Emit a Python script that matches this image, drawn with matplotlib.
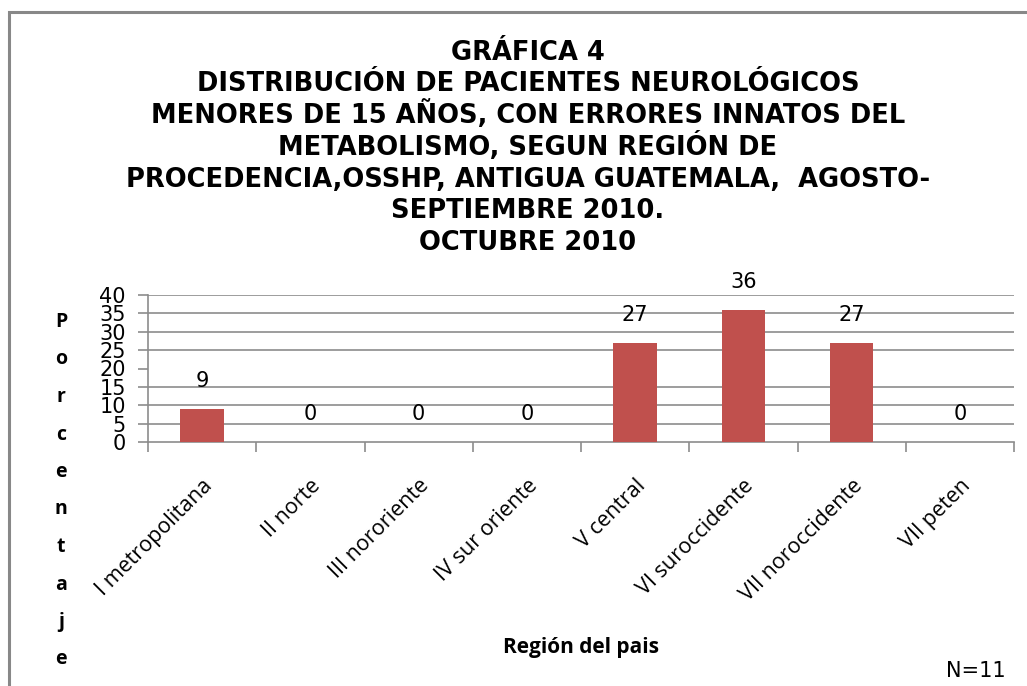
import matplotlib
matplotlib.use("Agg")
import matplotlib.pyplot as plt
from matplotlib.patches import Rectangle

categories = ["I metropolitana", "II norte", "III nororiente", "IV sur oriente",
              "V central", "VI suroccidente", "VII noroccidente", "VII peten"]
values = [9, 0, 0, 0, 27, 36, 27, 0]
yticks = [0, 5, 10, 15, 20, 25, 30, 35, 40]
title_lines = ["GRÁFICA 4",
               "DISTRIBUCIÓN DE PACIENTES NEUROLÓGICOS",
               "MENORES DE 15 AÑOS, CON ERRORES INNATOS DEL",
               "METABOLISMO, SEGUN REGIÓN DE",
               "PROCEDENCIA,OSSHP, ANTIGUA GUATEMALA,  AGOSTO-",
               "SEPTIEMBRE 2010.",
               "OCTUBRE 2010"]
ylabel = "Porcentaje"
xlabel = "Región del pais"
note = "N=11"

W, H = 1027, 686
fig = plt.figure(figsize=(W / 100, H / 100), dpi=100)
fig.patch.set_facecolor("white")

# outer chart border
fig.patches.append(Rectangle((9 / W, -0.05), 1.2, (686 - 12) / H + 0.05,
                             transform=fig.transFigure, fill=False,
                             edgecolor="#888888", linewidth=2.2))

ax = fig.add_axes([148 / W, (H - 442) / H, 866 / W, 147 / H])
x = list(range(len(categories)))
ax.bar(x, values, width=0.4, color="#C0504D", zorder=3)
ax.set_xlim(-0.5, len(categories) - 0.5)
ax.set_ylim(0, 40)
ax.set_yticks(yticks)
ax.set_yticklabels([str(v) for v in yticks], fontsize=15, family="DejaVu Sans")
for y in yticks[1:]:
    if y == 20:
        continue
    ax.axhline(y, color="#8c8c8c", linewidth=1.2, zorder=1)

ax.set_xticks([i - 0.5 for i in range(len(categories) + 1)])
ax.set_xticklabels([])
ax.set_xticks(x, minor=True)
ax.set_xticklabels(categories, minor=True, rotation=45, ha="right",
                   rotation_mode="anchor", fontsize=15.5, family="Open Sans")
ax.tick_params(axis="x", which="minor", length=0, pad=24)
ax.tick_params(axis="x", which="major", length=7, color="#8c8c8c", width=1.2)
ax.tick_params(axis="y", length=7, color="#8c8c8c", width=1.2, pad=9)
for s in ["top", "right"]:
    ax.spines[s].set_visible(False)
for s in ["left", "bottom"]:
    ax.spines[s].set_color("#8c8c8c")
    ax.spines[s].set_linewidth(1.2)

for xi, v in zip(x, values):
    ax.annotate(str(v), (xi, v), xytext=(0, 20), textcoords="offset points",
                ha="center", va="center", fontsize=15, family="DejaVu Sans")

# title
baselines = [59.5, 91, 123, 155, 186.5, 218, 250]
for line, yy in zip(title_lines, baselines):
    fig.text(528 / W, 1 - yy / H, line, ha="center", va="baseline",
             fontsize=18.5, fontweight="bold", family="DejaVu Sans")

# stacked y label
for i, ch in enumerate(ylabel):
    fig.text(61 / W, 1 - (322 + i * 37.5) / H, ch, ha="center", va="center",
             fontsize=14, fontweight="bold", family="Open Sans")

fig.text(581 / W, 1 - 653 / H, xlabel, ha="center", va="baseline",
         fontsize=15, fontweight="bold", family="Open Sans")
fig.text(976 / W, 1 - 677 / H, note, ha="center", va="baseline",
         fontsize=15, family="DejaVu Sans")

fig.savefig("out.png", dpi=100)
